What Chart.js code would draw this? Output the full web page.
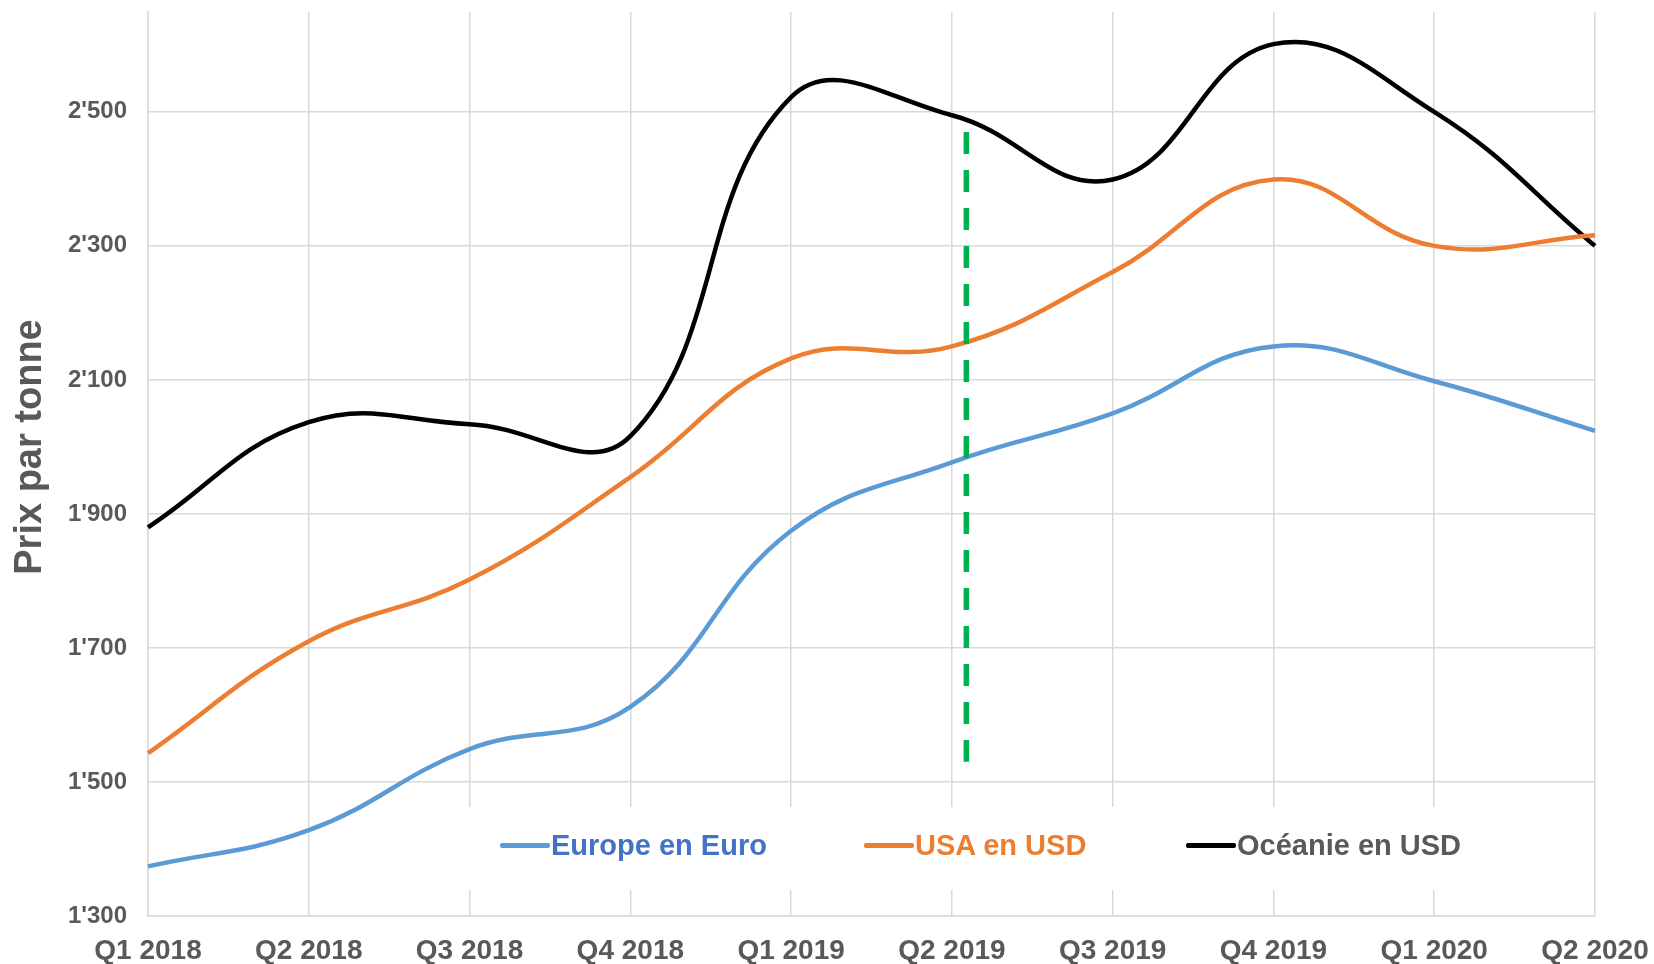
<!DOCTYPE html>
<html>
<head>
<meta charset="utf-8">
<script src="https://cdn.jsdelivr.net/npm/chart.js@4.4.1/dist/chart.umd.min.js"></script>
<style>
html,body{margin:0;padding:0;background:#ffffff;}
#wrap{position:relative;width:1654px;height:964px;}
#legend{position:absolute;left:0;top:0;width:1654px;height:964px;pointer-events:none;
  font-family:"Liberation Sans",Arial,sans-serif;font-weight:bold;font-size:29px;}
.item{position:absolute;top:828px;height:34px;line-height:34px;display:flex;align-items:center;white-space:nowrap;}
.mk{display:inline-block;width:50px;height:5px;border-radius:2px;margin-right:1px;}
</style>
</head>
<body>
<div id="wrap">
  <canvas id="c" width="1654" height="964"></canvas>
  <div id="legend"></div>
</div>
<script>
// ---- data ----
const categories = ['Q1 2018','Q2 2018','Q3 2018','Q4 2018','Q1 2019','Q2 2019','Q3 2019','Q4 2019','Q1 2020','Q2 2020'];
const europeEuro = [1374, 1428, 1549, 1612, 1875, 1977, 2050, 2150, 2098, 2024];
const usaUsd     = [1543, 1710, 1802, 1955, 2132, 2150, 2261, 2399, 2300, 2316];
const oceanieUsd = [1880, 2037, 2034, 2016, 2522, 2495, 2399, 2601, 2500, 2300];
const seriesNames = ['Europe en Euro', 'USA en USD', 'Océanie en USD'];
const yTicks = [1300, 1500, 1700, 1900, 2100, 2300, 2500];
const yTitle = 'Prix par tonne';
const markerIndex = 5.09;          // position of dashed marker (category index)
const markerRange = [1530, 2470];  // value range of dashed marker

// ---- styles ----
const lineColors = ['#5B9BD5', '#ED7D31', '#000000'];
const textColors = ['#4472C4', '#ED7D31', '#595959'];
const gridColor = '#d9d9d9';
const FONT = '"Liberation Sans", Arial, sans-serif';

const fmt = v => String(v).replace(/\B(?=(\d{3})+(?!\d))/g, "'");

const legendBoxPlugin = {
  id: 'legendBox',
  beforeDatasetsDraw(chart) {
    const ctx = chart.ctx;
    ctx.save();
    ctx.fillStyle = '#ffffff';
    ctx.fillRect(455, 807, 1490 - 455, 890 - 807);
    ctx.restore();
  }
};

const markerPlugin = {
  id: 'marker',
  afterDatasetsDraw(chart) {
    const {ctx, scales} = chart;
    const x = scales.x.getPixelForValue(markerIndex);
    const y1 = scales.y.getPixelForValue(markerRange[1]);
    const y0 = scales.y.getPixelForValue(markerRange[0]);
    ctx.save();
    ctx.strokeStyle = '#00B050';
    ctx.lineWidth = 5.5;
    ctx.setLineDash([22, 16]);
    ctx.beginPath();
    ctx.moveTo(x, y1);
    ctx.lineTo(x, y0);
    ctx.stroke();
    ctx.restore();
  }
};

const yTitlePlugin = {
  id: 'yTitle',
  afterDraw(chart) {
    const ctx = chart.ctx;
    ctx.save();
    ctx.translate(31, 447);
    ctx.rotate(-Math.PI / 2);
    ctx.font = 'bold 38px ' + FONT;
    ctx.fillStyle = '#595959';
    ctx.textAlign = 'center';
    ctx.textBaseline = 'middle';
    ctx.fillText(yTitle, 0, 0);
    ctx.restore();
  }
};

const mk = (label, data, color) => ({
  label, data,
  borderColor: color, backgroundColor: color,
  borderWidth: 4.5, pointRadius: 0, tension: 0.42, fill: false
});

new Chart(document.getElementById('c'), {
  type: 'line',
  data: {
    labels: categories,
    datasets: [
      mk(seriesNames[0], europeEuro, lineColors[0]),
      mk(seriesNames[1], usaUsd, lineColors[1]),
      mk(seriesNames[2], oceanieUsd, lineColors[2])
    ]
  },
  options: {
    responsive: false,
    animation: false,
    layout: { padding: { left: 0, top: 12, right: 59, bottom: 0 } },
    plugins: { legend: { display: false }, tooltip: { enabled: false } },
    scales: {
      x: {
        offset: false,
        grid: { color: gridColor, lineWidth: 1.5, drawTicks: false },
        border: { color: gridColor, width: 1.5 },
        ticks: { color: '#595959', font: { family: FONT, size: 28, weight: 'bold' }, padding: 18, maxRotation: 0, autoSkip: false },
        afterFit(s) { s.height = 48; s.paddingLeft = 0; s.paddingRight = 0; }
      },
      y: {
        min: 1300, max: 2649,
        afterBuildTicks(s) { s.ticks = yTicks.map(v => ({ value: v })); },
        grid: { color: gridColor, lineWidth: 1.5, drawTicks: false },
        border: { color: gridColor, width: 1.5 },
        ticks: { color: '#595959', font: { family: FONT, size: 24, weight: 'bold' }, padding: 21, callback: v => fmt(v) },
        afterFit(s) { s.width = 148; s.paddingTop = 0; s.paddingBottom = 0; }
      }
    }
  },
  plugins: [legendBoxPlugin, markerPlugin, yTitlePlugin]
});

// HTML legend
const legendLefts = [500, 864, 1186];
const lg = document.getElementById('legend');
seriesNames.forEach((name, i) => {
  const d = document.createElement('div');
  d.className = 'item';
  d.style.left = legendLefts[i] + 'px';
  d.style.color = textColors[i];
  const m = document.createElement('span');
  m.className = 'mk';
  m.style.background = lineColors[i];
  d.appendChild(m);
  d.appendChild(document.createTextNode(name));
  lg.appendChild(d);
});
</script>
</body>
</html>
